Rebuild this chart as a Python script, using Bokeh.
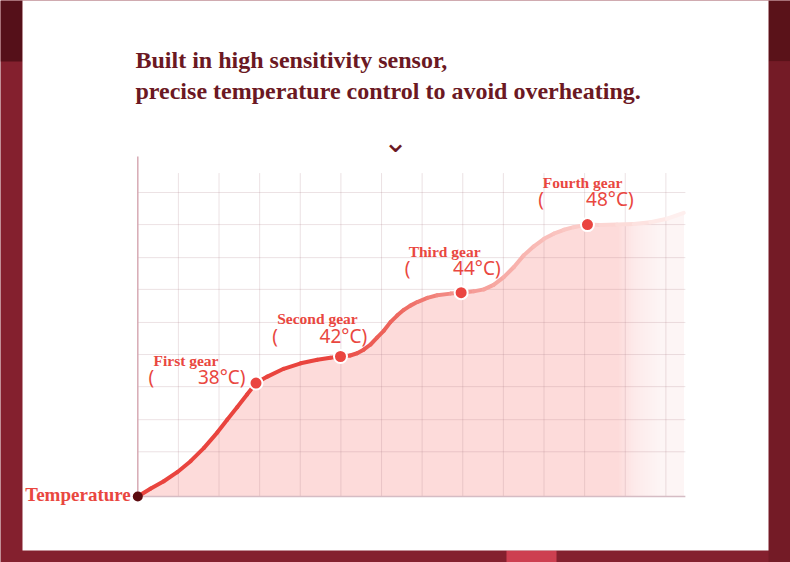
from bokeh.plotting import figure
from bokeh.models import Range1d, BoxAnnotation
from bokeh.core.properties import value
from bokeh.embed import file_html
from bokeh.resources import INLINE

# ---------------- data ----------------
title_lines = ["Built in high sensitivity sensor,",
               "precise temperature control to avoid overheating."]
gear_names = ["First gear", "Second gear", "Third gear", "Fourth gear"]
gear_temps = ["38°C)", "42°C)", "44°C)", "48°C)"]
gear_x = [2.91, 4.99, 7.96, 11.07]          # time (grid columns)
gear_y = [3.50, 4.32, 6.29, 8.39]           # level (grid rows)
origin_x = [0.0]
origin_y = [0.0]
origin_label = ["Temperature"]
curve_x = [0.00, 0.31, 0.64, 0.97, 1.30, 1.63, 1.96, 2.20, 2.45, 2.69, 2.91,
           3.19, 3.59, 4.01, 4.42, 4.74, 4.99, 5.23, 5.40, 5.56, 5.73, 5.89,
           6.06, 6.22, 6.39, 6.55, 6.71, 6.88, 7.13, 7.37, 7.70, 7.96, 8.27,
           8.52, 8.76, 9.01, 9.26, 9.50, 9.75, 10.00, 10.24, 10.49, 10.73,
           11.07, 11.39, 11.80, 12.21, 12.62, 13.03, 13.44]
curve_y = [0.00, 0.24, 0.47, 0.75, 1.09, 1.50, 1.98, 2.37, 2.76, 3.15, 3.50,
           3.70, 3.94, 4.11, 4.22, 4.28, 4.32, 4.35, 4.42, 4.53, 4.69, 4.90,
           5.12, 5.38, 5.59, 5.76, 5.89, 6.00, 6.13, 6.21, 6.26, 6.29, 6.33,
           6.39, 6.53, 6.77, 7.08, 7.44, 7.72, 7.95, 8.11, 8.23, 8.31,
           8.39, 8.38, 8.39, 8.41, 8.46, 8.57, 8.75]
grid_x = [1, 2, 3, 4, 5, 6, 7, 8, 9, 10, 11, 12, 13]
grid_y = [1.38, 2.37, 3.39, 4.38, 5.37, 6.39, 7.37, 8.39, 9.38]
x_end = 13.48
vgrid_top = 9.98
yaxis_top = 10.49

# ---------------- layout helpers (reference pixel -> data) ----------------
PX_X0, PX_DX, PX_Y0, PX_DY = 137.3, 40.62, 496.0, 32.41
W, H, M = 790, 562, 0


def fx(px):
    return (px - PX_X0) / PX_DX


def fy(py):
    return (PX_Y0 - py) / PX_DY


p = figure(width=W, height=H, output_backend="svg", toolbar_location=None,
           x_axis_location=None, y_axis_location=None, min_border=0,
           x_range=Range1d(fx(M), fx(M + W)), y_range=Range1d(fy(M + H), fy(M)))
p.grid.visible = False
p.outline_line_color = None
p.background_fill_color = "#84202e"
p.border_fill_color = "#84202e"

# background decoration
for l, r, t, b, c in [(0, 22, 0, 61, "#551019"), (768, 790, 0, 61, "#5a1219"),
                      (768, 790, 61, 562, "#741b26"),
                      (506, 556, 550, 562, "#cd3f50"),
                      (22, 768, 0, 550, "#ffffff")]:
    p.add_layout(BoxAnnotation(left=fx(l), right=fx(r), top=fy(t), bottom=fy(b),
                               fill_color=c, fill_alpha=1.0, line_alpha=0,
                               level="underlay"))

# title
p.text(x=[fx(135), fx(135)], y=[fy(59), fy(90)], text=title_lines,
       text_font=value("Liberation Serif"), text_font_style="bold",
       text_font_size="24px", text_color="#6b1823",
       text_align="left", text_baseline="alphabetic")
p.text(x=[fx(395)], y=[fy(141)], text=["⌄"], text_font=value("DejaVu Sans"),
       text_font_size="30px", text_color="#6b1823",
       text_align="center", text_baseline="middle")

# area fill
p.varea(x=curve_x, y1=0, y2=curve_y, fill_color="#fddbda")
# fade to white at the right
n_fade = 30
for k in range(n_fade):
    x0 = 11.85 + k * 0.058
    p.quad(left=x0, right=14.0, bottom=-0.05, top=9.8, fill_color="white",
           fill_alpha=0.085, line_alpha=0)

# grid
p.segment(x0=grid_x, y0=0, x1=grid_x, y1=vgrid_top, line_color="#a87c86",
          line_alpha=0.22, line_width=1)
p.segment(x0=0, y0=grid_y, x1=x_end, y1=grid_y, line_color="#a87c86",
          line_alpha=0.22, line_width=1)
# axes
p.segment(x0=[0], y0=[0], x1=[0], y1=[yaxis_top], line_color="#d7aab4", line_width=1.5)
p.segment(x0=[0], y0=[0], x1=[x_end], y1=[0], line_color="#d5bcc4", line_width=1.5)

# curve with colour fade
stops = [(0.0, (233, 68, 62)), (4.6, (233, 68, 62)), (6.5, (238, 106, 98)),
         (8.0, (244, 149, 143)), (9.5, (248, 181, 176)), (11.0, (251, 205, 202)),
         (12.5, (253, 227, 225)), (13.5, (255, 244, 243))]


def col_at(x):
    for (a, ca), (b, cb) in zip(stops[:-1], stops[1:]):
        if a <= x <= b:
            t = (x - a) / (b - a)
            c = [round(ca[i] + t * (cb[i] - ca[i])) for i in range(3)]
            return "#%02x%02x%02x" % tuple(c)
    return "#%02x%02x%02x" % stops[-1][1]


seg_cols = [col_at((curve_x[i] + curve_x[i + 1]) / 2) for i in range(len(curve_x) - 1)]
p.segment(x0=curve_x[:-1], y0=curve_y[:-1], x1=curve_x[1:], y1=curve_y[1:],
          line_color=seg_cols, line_width=4, line_cap="round")

# points
p.scatter(x=gear_x, y=gear_y, size=13, fill_color="#ea4540", line_color="white",
          line_width=2)
p.scatter(x=origin_x, y=origin_y, size=10, fill_color="#5c0b10", line_color=None)

# labels
red = "#e9473f"
p.text(x=gear_x, y=gear_y, text=gear_names,
       x_offset=[-102.5, -63.3, -52.5, -44.8], y_offset=[-23, -37.5, -41, -42],
       text_font=value("Liberation Serif"), text_font_style="bold",
       text_font_size="15.5px", text_color=red,
       text_align="left", text_baseline="alphabetic")
p.text(x=gear_x, y=gear_y, text=["("] * 4,
       x_offset=[-107.5, -68.3, -56.5, -49.1], y_offset=[-6, -20, -24.5, -25.5],
       text_font=value("Noto Sans"), text_font_size="19px", text_color=red,
       text_align="left", text_baseline="alphabetic")
p.text(x=gear_x, y=gear_y, text=gear_temps,
       x_offset=[-10.5, 26.7, 39.5, 46.2], y_offset=[-6, -20, -24.5, -25.5],
       text_font=value("Noto Sans"), text_font_size="19px", text_color=red,
       text_align="right", text_baseline="alphabetic")
p.text(x=origin_x, y=origin_y, text=origin_label, x_offset=-7, y_offset=-2.5,
       text_font=value("Liberation Serif"), text_font_style="bold",
       text_font_size="19px", text_color=red,
       text_align="right", text_baseline="alphabetic")

open("out.html", "w").write(file_html(p, INLINE))
